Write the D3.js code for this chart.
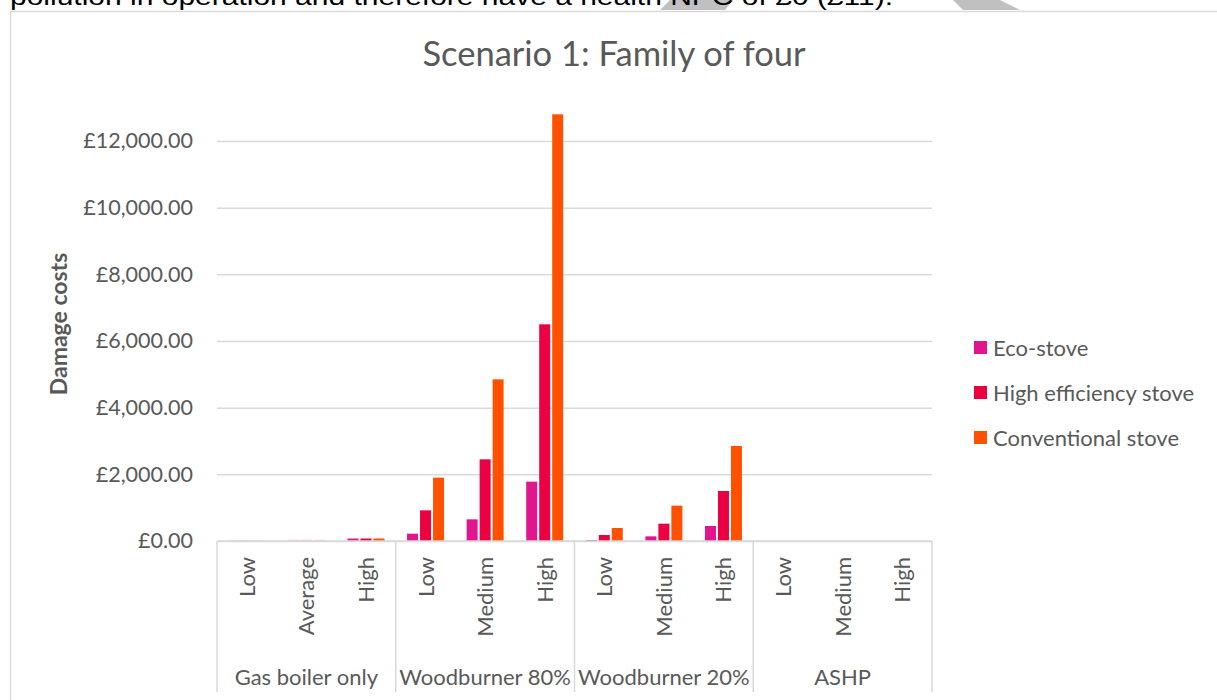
<!DOCTYPE html>
<html>
<head>
<meta charset="utf-8">
<script src="https://cdn.jsdelivr.net/npm/d3@7"></script>
<style>
  body { margin: 0; background: white; overflow: hidden; }
  text { font-family: Lato, 'Open Sans', sans-serif; fill: #595959; }
</style>
</head>
<body>
<div id="chart"></div>
<script>
// data
var groups = ['Gas boiler only', 'Woodburner 80%', 'Woodburner 20%', 'ASHP'];
var categories = ['Low', 'Average', 'High', 'Low', 'Medium', 'High', 'Low', 'Medium', 'High', 'Low', 'Medium', 'High'];
var seriesNames = ['Eco-stove', 'High efficiency stove', 'Conventional stove'];
var ecoStove = [5, 40, 75, 220, 650, 1780, 30, 140, 450, 0, 0, 0];
var highEffStove = [5, 40, 75, 920, 2450, 6500, 180, 520, 1500, 0, 0, 0];
var convStove = [5, 40, 75, 1900, 4850, 12800, 390, 1060, 2850, 0, 0, 0];
var yTicks = [0, 2000, 4000, 6000, 8000, 10000, 12000];
var colors = ['#DF168E', '#EB0041', '#FF5100'];
var fadedCats = [1];

var width = 1217;
var height = 700;
var plotLeft = 217;
var plotRight = 932;
var plotTop = 141;
var plotBottom = 541;
var fontSize = '22px';

var svg = d3.select('#chart').append('svg')
    .attr('width', width)
    .attr('height', height);

// cut-off line of document text above the chart
svg.append('polygon')
    .attr('points', '670,0 733,0 725,10 660,10')
    .attr('fill', '#c0c0c0');
svg.append('polygon')
    .attr('points', '953,0 1000,0 1020,10 963,10')
    .attr('fill', '#c0c0c0');
svg.append('text')
    .text('pollution in operation and therefore have a health NPC of £0 (£11).')
    .attr('x', 10)
    .attr('y', 5)
    .attr('textLength', 883)
    .attr('lengthAdjust', 'spacingAndGlyphs')
    .style('font-family', 'Liberation Sans, Arial, sans-serif')
    .style('font-size', '24px')
    .style('fill', '#000');

// chart area border
svg.append('rect')
    .attr('x', 10.5)
    .attr('y', 11.5)
    .attr('width', 1300)
    .attr('height', 800)
    .attr('fill', 'white')
    .attr('stroke', '#d9d9d9')
    .attr('stroke-width', 1.5);

svg.append('text')
    .text('Scenario 1: Family of four')
    .attr('x', 614)
    .attr('y', 66)
    .attr('text-anchor', 'middle')
    .style('font-size', '34.5px');

var yScale = d3.scaleLinear()
    .domain([0, 12000])
    .range([plotBottom, plotTop]);

var x0 = d3.scaleBand()
    .domain(d3.range(categories.length))
    .range([plotLeft, plotRight]);

var x1 = d3.scaleBand()
    .domain(d3.range(seriesNames.length))
    .range([0, x0.bandwidth()])
    .paddingInner(0.154)
    .paddingOuter(0.87);

// gridlines
var grid = d3.axisLeft(yScale)
    .tickValues(yTicks)
    .tickSize(-(plotRight - plotLeft))
    .tickFormat('');

svg.append('g')
    .attr('class', 'grid')
    .attr('transform', `translate(${plotLeft},0)`)
    .call(grid)
    .call(g => g.select('.domain').remove())
    .call(g => g.selectAll('line').attr('stroke', '#d9d9d9').attr('stroke-width', 1.5));

var yAxis = d3.axisLeft(yScale)
    .tickValues(yTicks)
    .tickSize(0)
    .tickPadding(24)
    .tickFormat(d => '£' + d3.format(',.2f')(d));

svg.append('g')
    .attr('transform', `translate(${plotLeft},0)`)
    .call(yAxis)
    .call(g => g.select('.domain').remove())
    .call(g => g.selectAll('text')
        .style('font-family', 'Lato, sans-serif')
        .style('font-size', '21.5px')
        .style('fill', '#595959'));

svg.append('text')
    .text('Damage costs')
    .attr('transform', `translate(67,${(plotTop + plotBottom) / 2 - 17})rotate(-90)`)
    .attr('text-anchor', 'middle')
    .style('font-size', '23px')
    .style('font-weight', 'bold');

// bars
var seriesData = [ecoStove, highEffStove, convStove];

seriesData.forEach((vals, s) => {
    svg.append('g')
        .selectAll('rect')
        .data(vals)
        .enter()
        .append('rect')
        .attr('x', (d, i) => x0(i) + x1(s))
        .attr('y', d => yScale(d))
        .attr('width', x1.bandwidth())
        .attr('height', d => yScale(0) - yScale(d))
        .attr('fill', colors[s])
        .attr('fill-opacity', (d, i) => fadedCats.indexOf(i) >= 0 ? 0.2 : 1);
});

// category axis
svg.append('line')
    .attr('x1', plotLeft)
    .attr('x2', plotRight)
    .attr('y1', plotBottom)
    .attr('y2', plotBottom)
    .attr('stroke', '#d9d9d9')
    .attr('stroke-width', 1.5);

var groupSize = categories.length / groups.length;

d3.range(groups.length + 1).forEach(g => {
    var xPos = g < groups.length ? x0(g * groupSize) : plotRight;
    svg.append('line')
        .attr('x1', xPos)
        .attr('x2', xPos)
        .attr('y1', plotBottom)
        .attr('y2', 692)
        .attr('stroke', '#d9d9d9')
        .attr('stroke-width', 1.5);
});

svg.append('g')
    .selectAll('text')
    .data(categories)
    .enter()
    .append('text')
    .text(d => d)
    .attr('text-anchor', 'end')
    .attr('transform', (d, i) => `translate(${x0(i) + x0.bandwidth() / 2 + 8},557)rotate(-90)`)
    .style('font-size', fontSize);

svg.append('g')
    .selectAll('text')
    .data(groups)
    .enter()
    .append('text')
    .text(d => d)
    .attr('text-anchor', 'middle')
    .attr('x', (d, g) => x0(g * groupSize) + x0.bandwidth() * groupSize / 2)
    .attr('y', 685)
    .style('font-size', fontSize);

// legend
var legend = svg.append('g')
    .selectAll('g')
    .data(seriesNames)
    .enter()
    .append('g')
    .attr('transform', (d, i) => `translate(974,${348 + i * 45})`);

legend.append('rect')
    .attr('x', 0)
    .attr('y', -7)
    .attr('width', 13)
    .attr('height', 13)
    .attr('fill', (d, i) => colors[i]);

legend.append('text')
    .text(d => d)
    .attr('x', 19)
    .attr('y', 7.5)
    .style('font-size', fontSize);
</script>
</body>
</html>
